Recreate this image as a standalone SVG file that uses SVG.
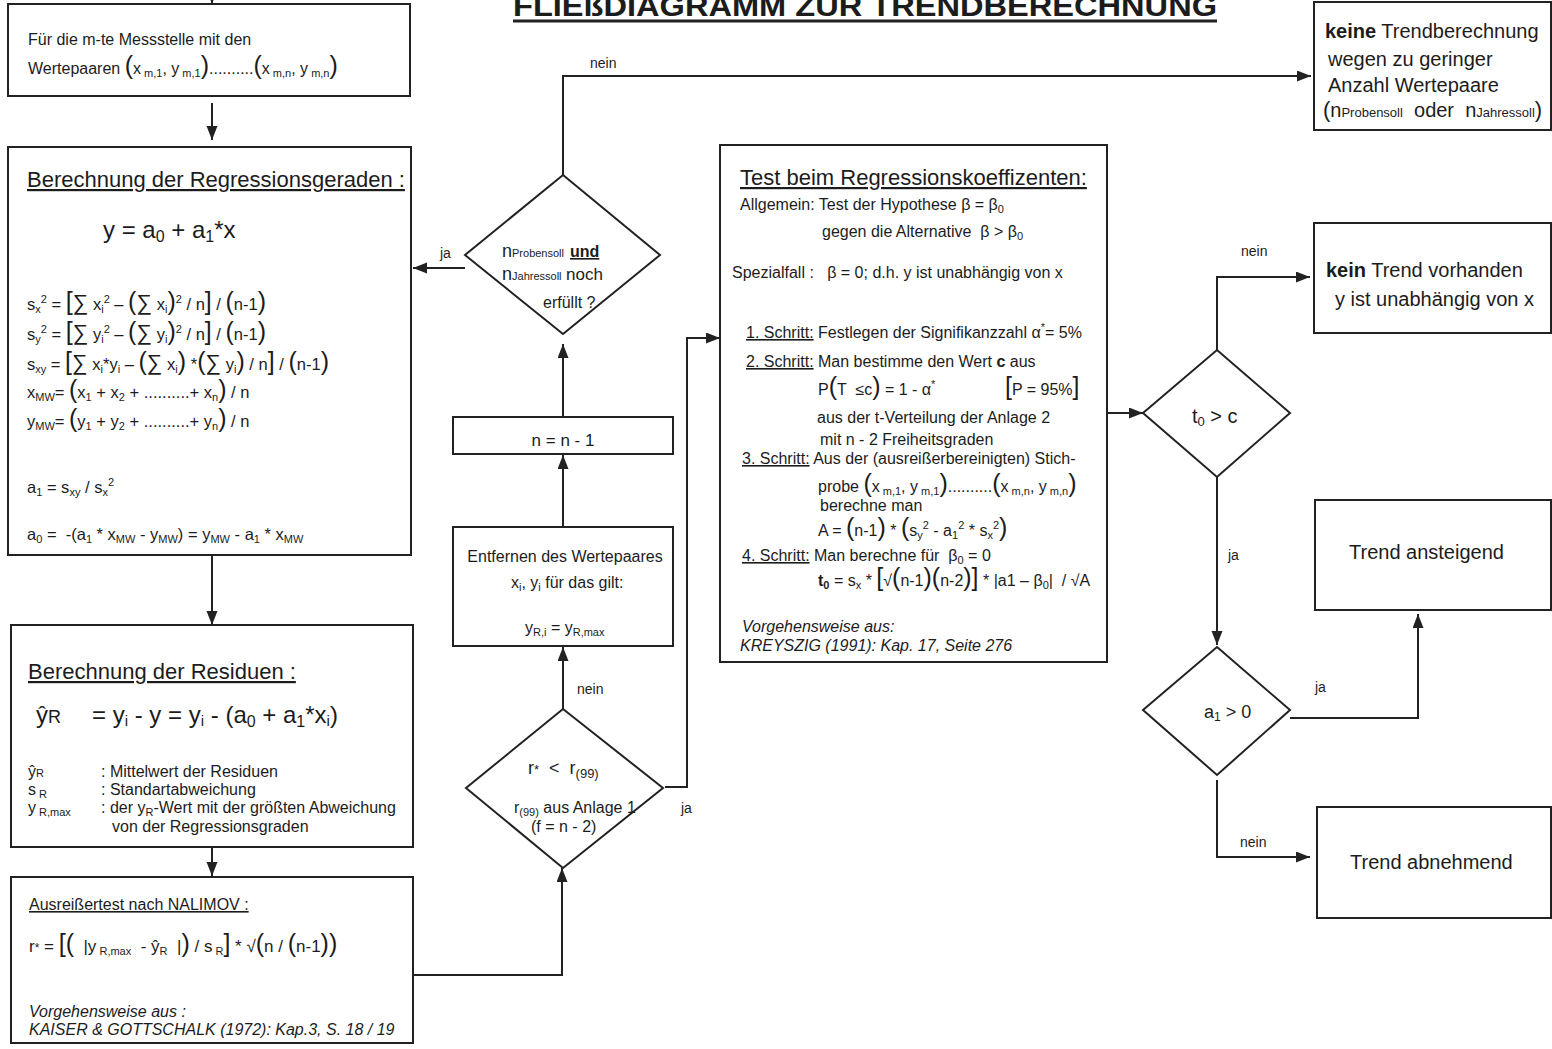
<svg xmlns="http://www.w3.org/2000/svg" width="1552" height="1049" viewBox="0 0 1552 1049">
<defs>
<style>
text{font-family:"Liberation Sans",Arial,sans-serif;fill:#1c1c1c;white-space:pre;}
.f14{font-size:14px}.f15{font-size:15px}.f16{font-size:16px}.f165{font-size:16.5px}.f17{font-size:17px}.f18{font-size:18px}.f20{font-size:20px}.f22{font-size:22px}.f24{font-size:24px}
.box{fill:#fff;stroke:#222;stroke-width:2}
.ln{fill:none;stroke:#222;stroke-width:2}
.sub{font-size:11px;baseline-shift:-3px}
.sup{font-size:11px;baseline-shift:7px}
.ul{text-decoration:underline}
.b{font-weight:bold}
.it{font-style:italic}
.bb{font-size:25px}
.sm{font-size:22px}
</style>
<marker id="ah" markerUnits="userSpaceOnUse" markerWidth="15" markerHeight="12" refX="14" refY="5.5" orient="auto">
<path d="M0,0 L14,5.5 L0,11 z" fill="#222"/>
</marker>
</defs>
<rect width="1552" height="1049" fill="#fff"/>

<g id="title">
<text x="513" y="16" class="b" font-size="30" textLength="704" lengthAdjust="spacingAndGlyphs">FLIEßDIAGRAMM ZUR TRENDBERECHNUNG</text>
<line x1="513" y1="21" x2="1217" y2="21" stroke="#222" stroke-width="3"/>
</g>

<g id="connectors">
<path class="ln" d="M212,-6 L212,4" marker-end="url(#ah)"/>
<path class="ln" d="M212,103 L212,140" marker-end="url(#ah)"/>
<path class="ln" d="M212,555 L212,625" marker-end="url(#ah)"/>
<path class="ln" d="M212,847 L212,876" marker-end="url(#ah)"/>
<path class="ln" d="M413,975 L562,975 L562,868" marker-end="url(#ah)"/>
<path class="ln" d="M563,709 L563,647" marker-end="url(#ah)"/>
<path class="ln" d="M563,526 L563,455" marker-end="url(#ah)"/>
<path class="ln" d="M563,417 L563,344" marker-end="url(#ah)"/>
<path class="ln" d="M465,268 L413,268" marker-end="url(#ah)"/>
<path class="ln" d="M563,175 L563,76 L1311,76" marker-end="url(#ah)"/>
<path class="ln" d="M665,787 L687,787 L687,338 L720,338" marker-end="url(#ah)"/>
<path class="ln" d="M1107,413 L1143,413" marker-end="url(#ah)"/>
<path class="ln" d="M1217,350 L1217,277 L1310,277" marker-end="url(#ah)"/>
<path class="ln" d="M1217,477 L1217,645" marker-end="url(#ah)"/>
<path class="ln" d="M1290,718 L1418,718 L1418,614" marker-end="url(#ah)"/>
<path class="ln" d="M1217,780 L1217,857 L1310,857" marker-end="url(#ah)"/>
<text x="590" y="68" class="f14">nein</text>
<text x="440" y="258" class="f14">ja</text>
<text x="577" y="694" class="f14">nein</text>
<text x="681" y="813" class="f14">ja</text>
<text x="1241" y="256" class="f14">nein</text>
<text x="1228" y="560" class="f14">ja</text>
<text x="1315" y="692" class="f14">ja</text>
<text x="1240" y="847" class="f14">nein</text>
</g>

<g id="n-start">
<rect class="box" x="8" y="4" width="402" height="92"/>
<text x="28" y="45" class="f16">Für die m-te Messstelle mit den</text>
<text x="28" y="74" class="f16">Wertepaaren <tspan class="bb">(</tspan>x<tspan class="sub"> m,1</tspan>, y<tspan class="sub"> m,1</tspan><tspan class="bb">)</tspan>..........<tspan class="bb">(</tspan>x<tspan class="sub"> m,n</tspan>, y<tspan class="sub"> m,n</tspan><tspan class="bb">)</tspan></text>
</g>

<g id="n-regression">
<rect class="box" x="8" y="147" width="403" height="408"/>
<text x="27" y="187" class="f22 ul">Berechnung der Regressionsgeraden :</text>
<text x="103" y="238" class="f24">y = a<tspan font-size="16" baseline-shift="-4">0</tspan> + a<tspan font-size="16" baseline-shift="-4">1</tspan>*x</text>
<text x="27" y="310" class="f165">s<tspan class="sub">x</tspan><tspan class="sup">2</tspan> = <tspan class="bb">[</tspan><tspan class="sm">∑</tspan> x<tspan class="sub">i</tspan><tspan class="sup">2</tspan> – <tspan class="bb">(</tspan><tspan class="sm">∑</tspan> x<tspan class="sub">i</tspan><tspan class="bb">)</tspan><tspan class="sup">2</tspan> / n<tspan class="bb">]</tspan> / <tspan class="bb">(</tspan>n-1<tspan class="bb">)</tspan></text>
<text x="27" y="340" class="f165">s<tspan class="sub">y</tspan><tspan class="sup">2</tspan> = <tspan class="bb">[</tspan><tspan class="sm">∑</tspan> y<tspan class="sub">i</tspan><tspan class="sup">2</tspan> – <tspan class="bb">(</tspan><tspan class="sm">∑</tspan> y<tspan class="sub">i</tspan><tspan class="bb">)</tspan><tspan class="sup">2</tspan> / n<tspan class="bb">]</tspan> / <tspan class="bb">(</tspan>n-1<tspan class="bb">)</tspan></text>
<text x="27" y="370" class="f165">s<tspan class="sub">xy</tspan> = <tspan class="bb">[</tspan><tspan class="sm">∑</tspan> x<tspan class="sub">i</tspan>*y<tspan class="sub">i</tspan> – <tspan class="bb">(</tspan><tspan class="sm">∑</tspan> x<tspan class="sub">i</tspan><tspan class="bb">)</tspan> *<tspan class="bb">(</tspan><tspan class="sm">∑</tspan> y<tspan class="sub">i</tspan><tspan class="bb">)</tspan> / n<tspan class="bb">]</tspan> / <tspan class="bb">(</tspan>n-1<tspan class="bb">)</tspan></text>
<text x="27" y="398" class="f165">x<tspan class="sub">MW</tspan>= <tspan class="bb">(</tspan>x<tspan class="sub">1</tspan> + x<tspan class="sub">2</tspan> + ..........+ x<tspan class="sub">n</tspan><tspan class="bb">)</tspan> / n</text>
<text x="27" y="427" class="f165">y<tspan class="sub">MW</tspan>= <tspan class="bb">(</tspan>y<tspan class="sub">1</tspan> + y<tspan class="sub">2</tspan> + ..........+ y<tspan class="sub">n</tspan><tspan class="bb">)</tspan> / n</text>
<text x="27" y="493" class="f165">a<tspan class="sub">1</tspan> = s<tspan class="sub">xy</tspan> / s<tspan class="sub">x</tspan><tspan class="sup">2</tspan></text>
<text x="27" y="540" class="f165">a<tspan class="sub">0</tspan> =  -(a<tspan class="sub">1</tspan> * x<tspan class="sub">MW</tspan> - y<tspan class="sub">MW</tspan>) = y<tspan class="sub">MW</tspan> - a<tspan class="sub">1</tspan> * x<tspan class="sub">MW</tspan></text>
</g>

<g id="n-residuen">
<rect class="box" x="11" y="625" width="402" height="222"/>
<text x="28" y="679" class="f22 ul">Berechnung der Residuen :</text>
<text x="36" y="723" class="f24">ŷ<tspan font-size="18">R</tspan></text>
<text x="92" y="723" class="f24">= y<tspan font-size="15" baseline-shift="-3">i</tspan> - y = y<tspan font-size="15" baseline-shift="-3">i</tspan> - (a<tspan font-size="16" baseline-shift="-4">0</tspan> + a<tspan font-size="16" baseline-shift="-4">1</tspan>*x<tspan font-size="15" baseline-shift="-3">i</tspan>)</text>
<text x="28" y="777" class="f16">ŷ<tspan font-size="11">R</tspan></text>
<text x="101" y="777" class="f16">: Mittelwert der Residuen</text>
<text x="28" y="795" class="f16">s<tspan class="sub"> R</tspan></text>
<text x="101" y="795" class="f16">: Standartabweichung</text>
<text x="28" y="813" class="f16">y<tspan class="sub"> R,max</tspan></text>
<text x="101" y="813" class="f16">: der y<tspan class="sub">R</tspan>-Wert mit der größten Abweichung</text>
<text x="112" y="832" class="f16">von der Regressionsgraden</text>
</g>

<g id="n-nalimov">
<rect class="box" x="11" y="877" width="402" height="166"/>
<text x="29" y="910" class="f16 ul">Ausreißertest nach NALIMOV :</text>
<text x="29" y="952" class="f17">r<tspan font-size="12">*</tspan> = <tspan class="bb">[(</tspan>  |y<tspan class="sub"> R,max</tspan>  - ŷ<tspan class="sub">R</tspan>  |<tspan class="bb">)</tspan> / s<tspan class="sub"> R</tspan><tspan class="bb">]</tspan> * √<tspan class="bb">(</tspan>n / <tspan class="bb">(</tspan>n-1<tspan class="bb">))</tspan></text>
<text x="29" y="1017" class="f16 it">Vorgehensweise aus :</text>
<text x="29" y="1035" class="f16 it">KAISER &amp; GOTTSCHALK (1972): Kap.3, S. 18 / 19</text>
</g>

<g id="n-decision1">
<polygon class="box" points="563,175 660,255 563,334 465,255"/>
<text x="502" y="257" class="f18">n<tspan font-size="11">Probensoll</tspan></text>
<text x="570" y="257" class="f16 b ul">und</text>
<text x="502" y="280" class="f18">n<tspan font-size="11">Jahressoll</tspan></text>
<text x="566" y="280" class="f17">noch</text>
<text x="543" y="308" class="f16">erfüllt ?</text>
</g>

<g id="n-decrement">
<rect class="box" x="453" y="417" width="220" height="37"/>
<text x="563" y="446" class="f17" text-anchor="middle">n = n - 1</text>
</g>

<g id="n-remove">
<rect class="box" x="453" y="527" width="220" height="119"/>
<text x="565" y="562" class="f16" text-anchor="middle">Entfernen des Wertepaares</text>
<text x="511" y="588" class="f16">x<tspan class="sub">i</tspan>, y<tspan class="sub">i</tspan> für das gilt:</text>
<text x="525" y="633" class="f16">y<tspan class="sub">R,i</tspan> = y<tspan class="sub">R,max</tspan></text>
</g>

<g id="n-decision2">
<polygon class="box" points="563,709 663,788 563,868 466,788"/>
<text x="528" y="774" class="f18">r<tspan font-size="13">*</tspan>  &lt;  r<tspan font-size="13" baseline-shift="-4">(99)</tspan></text>
<text x="514" y="813" class="f16">r<tspan class="sub">(99)</tspan> aus Anlage 1</text>
<text x="531" y="832" class="f16">(f = n - 2)</text>
</g>

<g id="n-test">
<rect class="box" x="720" y="145" width="387" height="517"/>
<text x="740" y="185" class="f22 ul">Test beim Regressionskoeffizenten:</text>
<text x="740" y="210" class="f16">Allgemein: Test der Hypothese β = β<tspan class="sub">0</tspan></text>
<text x="822" y="237" class="f16">gegen die Alternative  β &gt; β<tspan class="sub">0</tspan></text>
<text x="732" y="278" class="f16">Spezialfall :   β = 0; d.h. y ist unabhängig von x</text>
<text x="746" y="338" class="f16"><tspan class="ul">1. Schritt:</tspan> Festlegen der Signifikanzzahl α<tspan class="sup">*</tspan>= 5%</text>
<text x="746" y="367" class="f16"><tspan class="ul">2. Schritt:</tspan> Man bestimme den Wert <tspan class="b">c</tspan> aus</text>
<text x="818" y="395" class="f16">P<tspan class="bb">(</tspan>T  ≤c<tspan class="bb">)</tspan> = 1 - α<tspan class="sup">*</tspan></text>
<text x="1005" y="395" class="f16"><tspan class="bb">[</tspan>P = 95%<tspan class="bb">]</tspan></text>
<text x="817" y="423" class="f16">aus der t-Verteilung der Anlage 2</text>
<text x="820" y="445" class="f16">mit n - 2 Freiheitsgraden</text>
<text x="742" y="464" class="f16"><tspan class="ul">3. Schritt:</tspan> Aus der (ausreißerbereinigten) Stich-</text>
<text x="818" y="492" class="f16">probe <tspan class="bb">(</tspan>x<tspan class="sub"> m,1</tspan>, y<tspan class="sub"> m,1</tspan><tspan class="bb">)</tspan>..........<tspan class="bb">(</tspan>x<tspan class="sub"> m,n</tspan>, y<tspan class="sub"> m,n</tspan><tspan class="bb">)</tspan></text>
<text x="820" y="511" class="f16">berechne man</text>
<text x="818" y="536" class="f16">A = <tspan class="bb">(</tspan>n-1<tspan class="bb">)</tspan> * <tspan class="bb">(</tspan>s<tspan class="sub">y</tspan><tspan class="sup">2</tspan> - a<tspan class="sub">1</tspan><tspan class="sup">2</tspan> * s<tspan class="sub">x</tspan><tspan class="sup">2</tspan><tspan class="bb">)</tspan></text>
<text x="742" y="561" class="f16"><tspan class="ul">4. Schritt:</tspan> Man berechne für  β<tspan class="sub">0</tspan> = 0</text>
<text x="818" y="586" class="f16"><tspan class="b">t</tspan><tspan class="sub b">0</tspan> = s<tspan class="sub">x</tspan> * <tspan class="bb">[</tspan>√<tspan class="bb">(</tspan>n-1<tspan class="bb">)(</tspan>n-2<tspan class="bb">)]</tspan> * |a1 – β<tspan class="sub">0</tspan>|  / √A</text>
<text x="742" y="632" class="f16 it">Vorgehensweise aus:</text>
<text x="740" y="651" class="f16 it">KREYSZIG (1991): Kap. 17, Seite 276</text>
</g>

<g id="n-keine">
<rect class="box" x="1314" y="2" width="237" height="128"/>
<text x="1325" y="38" class="f20"><tspan class="b">keine</tspan> Trendberechnung</text>
<text x="1328" y="66" class="f20">wegen zu geringer</text>
<text x="1328" y="92" class="f20">Anzahl Wertepaare</text>
<text x="1323" y="117" class="f20"><tspan font-size="22">(</tspan>n<tspan font-size="13">Probensoll</tspan>  oder  n<tspan font-size="13">Jahressoll</tspan><tspan font-size="22">)</tspan></text>
</g>

<g id="n-kein-trend">
<rect class="box" x="1314" y="223" width="237" height="110"/>
<text x="1326" y="277" class="f20"><tspan class="b">kein</tspan> Trend vorhanden</text>
<text x="1335" y="306" class="f20">y ist unabhängig von x</text>
</g>

<g id="n-decision3">
<polygon class="box" points="1217,350 1290,413 1217,477 1143,413"/>
<text x="1192" y="423" class="f20">t<tspan font-size="13" baseline-shift="-3">0</tspan> &gt; c</text>
</g>

<g id="n-decision4">
<polygon class="box" points="1217,647 1290,710 1217,775 1143,710"/>
<text x="1204" y="718" class="f18">a<tspan font-size="12" baseline-shift="-3">1</tspan> &gt; 0</text>
</g>

<g id="n-ansteigend">
<rect class="box" x="1315" y="500" width="236" height="110"/>
<text x="1349" y="559" class="f20">Trend ansteigend</text>
</g>

<g id="n-abnehmend">
<rect class="box" x="1317" y="807" width="234" height="111"/>
<text x="1350" y="869" class="f20">Trend abnehmend</text>
</g>
</svg>
